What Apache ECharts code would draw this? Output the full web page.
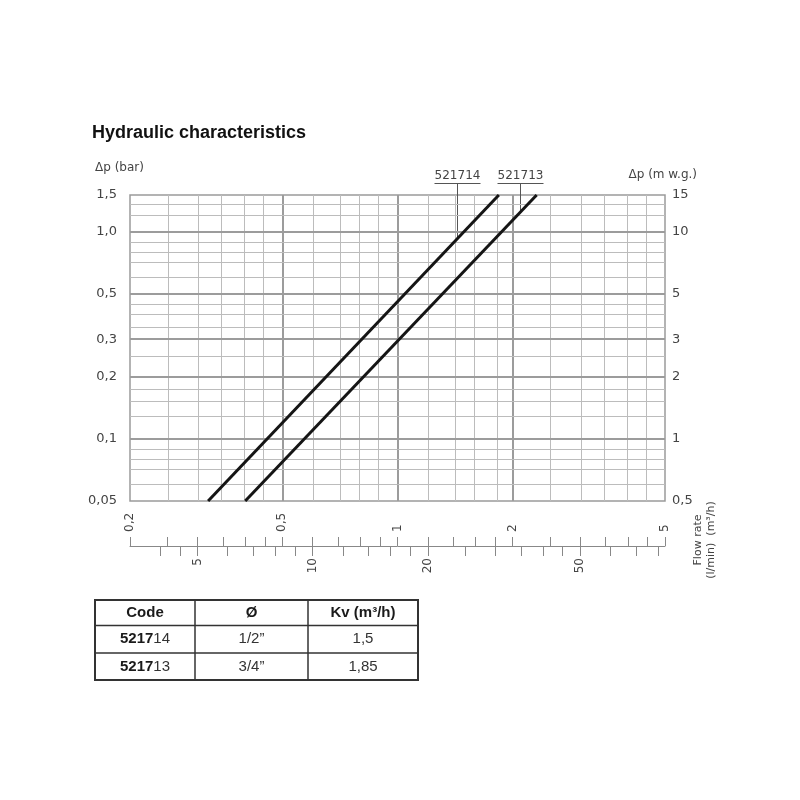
<!DOCTYPE html>
<html><head><meta charset="utf-8">
<script src="https://cdn.jsdelivr.net/npm/echarts@6/dist/echarts.min.js"></script>
<style>html,body{margin:0;padding:0;background:#fff}#c{width:800px;height:800px}</style>
</head><body><div id="c"></div>
<script>
// ---- data ----
const flowTicks = [0.2,0.25,0.3,0.35,0.4,0.45,0.5,0.6,0.7,0.8,0.9,1,1.2,1.4,1.6,1.8,2,2.5,3,3.5,4,4.5,5];
const flowMajor = [0.5,1,2];
const flowLabelValues = [0.2,0.5,1,2,5];
const flowLabelTexts = ['0,2','0,5','1','2','5'];
const lminTicks = [4,4.5,5,6,7,8,9,10,12,14,16,18,20,25,30,35,40,45,50,60,70,80];
const lminLabelValues = [5,10,20,50];
const lminLabelTexts = ['5','10','20','50'];
const dpGrid = [0.05,0.06,0.07,0.08,0.09,0.1,0.13,0.15,0.175,0.2,0.25,0.3,0.35,0.4,0.45,0.5,0.6,0.7,0.8,0.9,1,1.2,1.35,1.5];
const dpMajor = [0.1,0.2,0.3,0.5,1];
const dpLabelValues = [0.05,0.1,0.2,0.3,0.5,1.0,1.5];
const dpLabelTexts = ['0,05','0,1','0,2','0,3','0,5','1,0','1,5'];
const mwgLabelValues = [0.5,1,2,3,5,10,15];
const mwgLabelTexts = ['0,5','1','2','3','5','10','15'];
const seriesNames = ['521714','521713'];
const flow521714 = [0.32, 1.84];
const dp521714 = [0.05, 1.5];
const flow521713 = [0.40, 2.31];
const dp521713 = [0.05, 1.5];
const tableHeader = ['Code','Ø','Kv (m³/h)'];
const tableCodesBold = ['5217','5217'];
const tableCodesRest = ['14','13'];
const tableDiameters = ['1/2”','3/4”'];
const tableKv = ['1,5','1,85'];

// ---- helpers ----
const lg = Math.log10;
const fmt = (vals, texts) => v => { for (let i=0;i<vals.length;i++) if (Math.abs(lg(vals[i])-v) < 1e-6) return texts[i]; return ''; };
const FONT = 'DejaVu Sans';
const TXT = '#444';
const minor = {color:'#bcbcbc', width:1, type:'solid'};
const major = {color:'#9c9c9c', width:2, type:'solid'};

const chart = echarts.init(document.getElementById('c'), null, {renderer:'canvas'});

const gridMarks = [];
flowTicks.forEach(v => { if (v>0.2 && v<5) gridMarks.push({xAxis: lg(v), lineStyle: flowMajor.includes(v) ? major : minor}); });
dpGrid.forEach(v => { if (v>0.05 && v<1.5) gridMarks.push({yAxis: lg(v), lineStyle: dpMajor.includes(v) ? major : minor}); });

const lminMin = 0.2*1000/60, lminMax = 5*1000/60;
const labelStyle = {color:TXT, fontSize:13, fontFamily:FONT};

chart.setOption({
  animation:false,
  title:{text:'Hydraulic characteristics', left:92, top:124, padding:0,
    textStyle:{fontFamily:'Liberation Sans', fontWeight:'bold', fontSize:18, color:'#111'}},
  grid:{left:130, top:195, width:535, height:306, show:true, borderColor:'#9a9a9a', borderWidth:1.5, containLabel:false},
  xAxis:[
    {type:'value', position:'bottom', offset:45, min:lg(0.2), max:lg(5),
     axisLine:{show:true, onZero:false, lineStyle:{color:'#888', width:1}},
     axisTick:{show:true, inside:true, length:9, customValues:flowTicks.map(lg), lineStyle:{color:'#888'}},
     axisLabel:Object.assign({show:true, inside:true, rotate:90, margin:14, customValues:flowLabelValues.map(lg), formatter:fmt(flowLabelValues, flowLabelTexts)}, labelStyle, {fontSize:12}),
     splitLine:{show:false}},
    {type:'value', position:'bottom', offset:45, min:lg(lminMin), max:lg(lminMax),
     axisLine:{show:false, onZero:false},
     axisTick:{show:true, inside:false, length:10, customValues:lminTicks.map(lg), lineStyle:{color:'#888'}},
     axisLabel:Object.assign({show:true, rotate:90, margin:12, customValues:lminLabelValues.map(lg), formatter:fmt(lminLabelValues, lminLabelTexts)}, labelStyle, {fontSize:12}),
     splitLine:{show:false}}
  ],
  yAxis:[
    {type:'value', position:'left', min:lg(0.05), max:lg(1.5),
     axisLine:{show:false, onZero:false}, axisTick:{show:false}, splitLine:{show:false},
     axisLabel:Object.assign({margin:13, customValues:dpLabelValues.map(lg), formatter:fmt(dpLabelValues, dpLabelTexts)}, labelStyle)},
    {type:'value', position:'right', min:lg(0.5), max:lg(15),
     axisLine:{show:false, onZero:false}, axisTick:{show:false}, splitLine:{show:false},
     axisLabel:Object.assign({margin:7, customValues:mwgLabelValues.map(lg), formatter:fmt(mwgLabelValues, mwgLabelTexts)}, labelStyle)}
  ],
  series:[
    {name:'grid', type:'line', data:[], xAxisIndex:0, yAxisIndex:0, silent:true,
     markLine:{silent:true, z:1, symbol:['none','none'], label:{show:false}, emphasis:{disabled:true}, animation:false, data:gridMarks}},
    {name:seriesNames[0], type:'line', xAxisIndex:0, yAxisIndex:0, z:5, symbol:'none', silent:true,
     data:flow521714.map((q,i)=>[lg(q), lg(dp521714[i])]), lineStyle:{color:'#151515', width:3}},
    {name:seriesNames[1], type:'line', xAxisIndex:0, yAxisIndex:0, z:5, symbol:'none', silent:true,
     data:flow521713.map((q,i)=>[lg(q), lg(dp521713[i])]), lineStyle:{color:'#151515', width:3}}
  ]
});

// ---- annotations ----
function onLine(flows, dps, q){
  const t = (lg(q)-lg(flows[0]))/(lg(flows[1])-lg(flows[0]));
  return lg(dps[0]) + t*(lg(dps[1])-lg(dps[0]));
}
const leaderQ = [1.43, 2.09];
const g = [];
[[flow521714, dp521714],[flow521713, dp521713]].forEach((s, i) => {
  const p = chart.convertToPixel({seriesIndex:i+1}, [lg(leaderQ[i]), onLine(s[0], s[1], leaderQ[i])]);
  const lx = Math.round(p[0]) + 0.5;
  g.push({type:'text', x:lx, y:176, style:{text:seriesNames[i], fontSize:12, fontFamily:FONT, fill:TXT, align:'center', verticalAlign:'middle'}});
  g.push({type:'line', shape:{x1:lx-23, y1:183.5, x2:lx+23, y2:183.5}, style:{stroke:'#555', lineWidth:1}});
  g.push({type:'line', shape:{x1:lx, y1:183.5, x2:lx, y2:p[1]}, style:{stroke:'#555', lineWidth:1}});
});
g.push({type:'text', x:95, y:168, style:{text:'Δp (bar)', fontSize:12, fontFamily:FONT, fill:TXT, align:'left', verticalAlign:'middle'}});
g.push({type:'text', x:697, y:175, style:{text:'Δp (m w.g.)', fontSize:12, fontFamily:FONT, fill:TXT, align:'right', verticalAlign:'middle'}});
g.push({type:'text', x:698, y:540, rotation:Math.PI/2, style:{text:'Flow rate', fontSize:11, fontFamily:FONT, fill:TXT, align:'center', verticalAlign:'middle'}});
g.push({type:'text', x:711, y:540, rotation:Math.PI/2, style:{text:'(l/min)  (m³/h)', fontSize:11, fontFamily:FONT, fill:TXT, align:'center', verticalAlign:'middle'}});

// table
const colX = [95,195,308,418];
const rowY = [600,625.5,653,680];
const tf = 'Liberation Sans';
for (let r=1; r<rowY.length-1; r++) g.push({type:'line', shape:{x1:colX[0], y1:rowY[r], x2:colX[3], y2:rowY[r]}, style:{stroke:'#333', lineWidth:1.5}});
for (let c=1; c<colX.length-1; c++) g.push({type:'line', shape:{x1:colX[c], y1:rowY[0], x2:colX[c], y2:rowY[3]}, style:{stroke:'#333', lineWidth:1.5}});
g.push({type:'rect', shape:{x:colX[0], y:rowY[0], width:colX[3]-colX[0], height:rowY[3]-rowY[0]}, style:{fill:'none', stroke:'#333', lineWidth:2}});
tableHeader.forEach((h,c) => g.push({type:'text', x:(colX[c]+colX[c+1])/2, y:(rowY[0]+rowY[1])/2, style:{text:h, fontSize:15, fontWeight:'bold', fontFamily:tf, fill:'#1a1a1a', align:'center', verticalAlign:'middle'}}));
for (let r=0; r<2; r++){
  const cy = (rowY[r+1]+rowY[r+2])/2;
  g.push({type:'text', x:(colX[0]+colX[1])/2, y:cy, style:{text:'{b|'+tableCodesBold[r]+'}{n|'+tableCodesRest[r]+'}', align:'center', verticalAlign:'middle',
    rich:{b:{fontSize:15, fontWeight:'bold', fontFamily:tf, fill:'#1a1a1a'}, n:{fontSize:15, fontFamily:tf, fill:'#333'}}}});
  g.push({type:'text', x:(colX[1]+colX[2])/2, y:cy, style:{text:tableDiameters[r], fontSize:15, fontFamily:tf, fill:'#333', align:'center', verticalAlign:'middle'}});
  g.push({type:'text', x:(colX[2]+colX[3])/2, y:cy, style:{text:tableKv[r], fontSize:15, fontFamily:tf, fill:'#333', align:'center', verticalAlign:'middle'}});
}
chart.setOption({graphic:g});
</script>
</body></html>
